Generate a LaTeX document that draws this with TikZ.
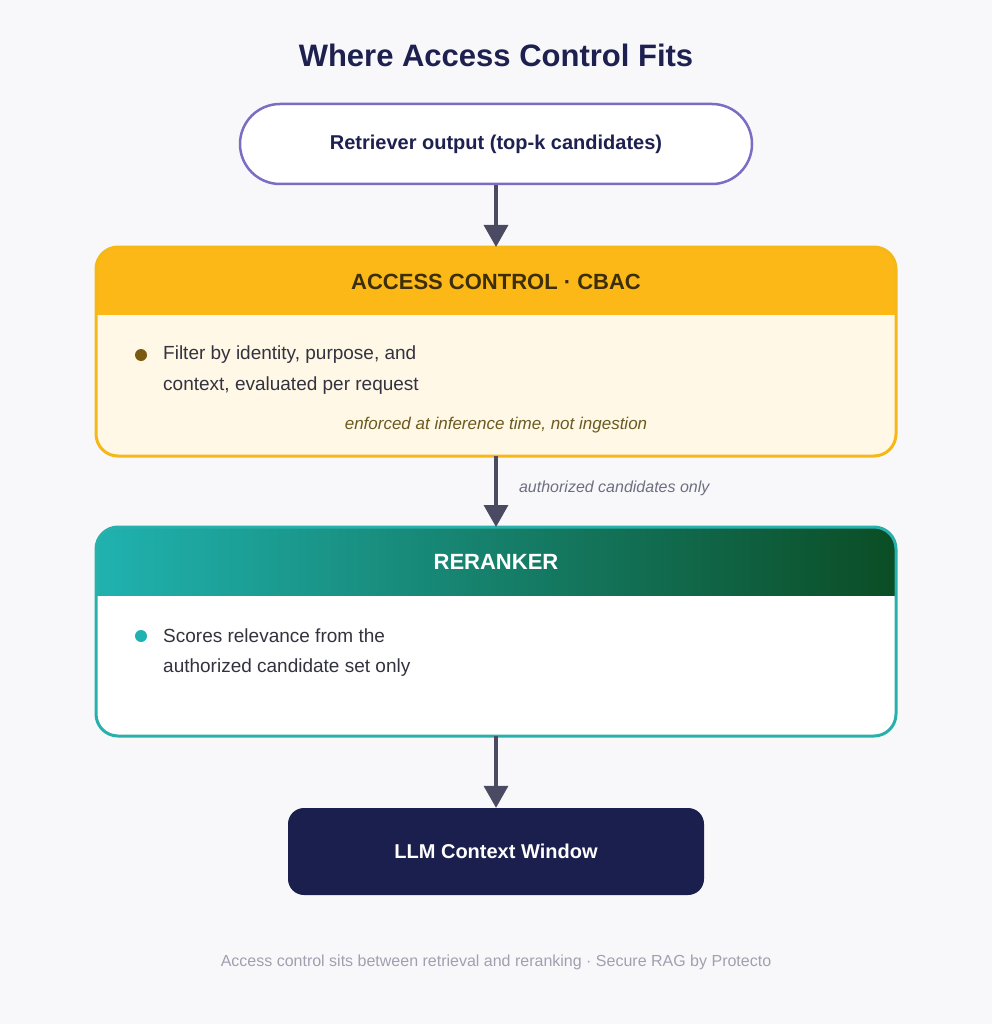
\documentclass[tikz,border=0pt]{standalone}
\usepackage{fontspec}
\setmainfont{Liberation Sans}
\usetikzlibrary{arrows.meta}
\definecolor{bg}{HTML}{F8F8FB}
\definecolor{navy}{HTML}{1E2050}
\definecolor{purp}{HTML}{7B6CC4}
\definecolor{arr}{HTML}{4A4A62}
\definecolor{gold}{HTML}{FBB817}
\definecolor{goldb}{HTML}{F5B818}
\definecolor{cream}{HTML}{FFF8E6}
\definecolor{brownt}{HTML}{3D2E0A}
\definecolor{bulb}{HTML}{7A5A10}
\definecolor{ital}{HTML}{6B5A20}
\definecolor{teal}{HTML}{20B2B0}
\definecolor{dgreen}{HTML}{0B4D25}
\definecolor{tealb}{HTML}{2AB0AA}
\definecolor{body}{HTML}{333340}
\definecolor{llm}{HTML}{1B1F4E}
\definecolor{foot}{HTML}{A0A0B0}
\tikzset{
 flow/.style={draw=arr,line width=3.5pt,-{Triangle[width=24pt,length=22pt]}},
 txt/.style={font=\fontsize{19}{23}\selectfont,text=body,anchor=west,inner sep=0},
}
\begin{document}
\begin{tikzpicture}[x=1pt,y=-1pt]
\fill[bg] (0,0) rectangle (992,1024);
\useasboundingbox (0,0) rectangle (992,1024);
\node (title) at (496,55) {\fontsize{31}{36}\selectfont\bfseries\color{navy}Where Access Control Fits};
% retriever
\node (ret) [draw=purp,line width=2.5pt,fill=white,rounded corners=40pt,minimum width=512pt,minimum height=80pt,font=\fontsize{20}{24}\selectfont\bfseries,text=navy] at (496,144) {Retriever output (top-k candidates)};
% CBAC
\fill[cream,rounded corners=22pt] (96,247) rectangle (896,456);
\begin{scope}
\clip[rounded corners=22pt] (96,247) rectangle (896,456);
\fill[gold] (96,247) rectangle (896,315);
\end{scope}
\draw[goldb,line width=3pt,rounded corners=22pt] (96,247) rectangle (896,456);
\coordinate (cbacT) at (496,247);
\coordinate (cbacB) at (496,456);
\node (cbach) at (496,282) {\fontsize{22}{26}\selectfont\bfseries\color{brownt}ACCESS CONTROL · CBAC};
\fill[bulb] (141,355) circle (6pt);
\node[txt] (c1) at (163,355) {Filter by identity, purpose, and};
\node[txt] (c2) at (163,386) {context, evaluated per request};
\node (c3) at (496,425) {\fontsize{17}{20}\selectfont\itshape\color{ital}enforced at inference time, not ingestion};
% reranker
\fill[white,rounded corners=22pt] (96,527) rectangle (896,736);
\begin{scope}
\clip[rounded corners=22pt] (96,527) rectangle (896,736);
\shade[left color=teal,right color=dgreen] (96,527) rectangle (896,595);
\end{scope}
\draw[tealb,line width=3pt,rounded corners=22pt] (96,527) rectangle (896,736);
\coordinate (rerT) at (496,527);
\coordinate (rerB) at (496,736);
\node (rerh) at (496,562) {\fontsize{22}{26}\selectfont\bfseries\color{white}RERANKER};
\fill[teal] (141,636) circle (6pt);
\node[txt] (r1) at (163,636) {Scores relevance from the};
\node[txt] (r2) at (163,668) {authorized candidate set only};
% LLM
\node (llm) [fill=llm,rounded corners=16pt,minimum width=416pt,minimum height=87pt,font=\fontsize{20}{24}\selectfont\bfseries,text=white] at (496,851.5) {LLM Context Window};
% arrows
\draw[flow] (ret.south) -- (cbacT);
\draw[flow] (cbacB) -- node[right=18pt,pos=0.45,font=\fontsize{16}{19}\selectfont\itshape,text=arr!80] {authorized candidates only} (rerT);
\draw[flow] (rerB) -- (llm.north);
\node (foot) at (496,962) {\fontsize{16}{19}\selectfont\color{foot}Access control sits between retrieval and reranking · Secure RAG by Protecto};
\end{tikzpicture}
\end{document}
